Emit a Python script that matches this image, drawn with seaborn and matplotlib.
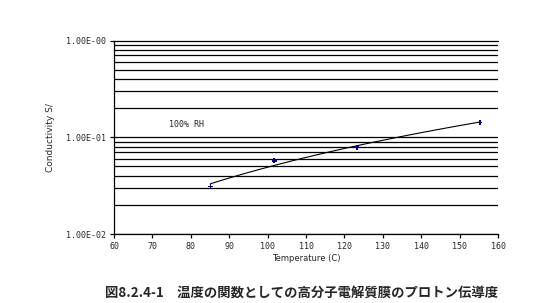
import numpy as np
import pandas as pd
import matplotlib
matplotlib.use("Agg")
import matplotlib.pyplot as plt
import seaborn as sns

# Data
temperature = [85.1, 101.7, 123.2, 155.3]
conductivity = [0.031, 0.057, 0.079, 0.142]
x_ticks = [60, 70, 80, 90, 100, 110, 120, 130, 140, 150, 160]
y_ticks = [0.01, 0.1, 1.0]
y_tick_labels = ["1.00E-02", "1.00E-01", "1.00E-00"]
annotation = "100% RH"
x_label = "Temperature (C)"
y_label = "Conductivity S/"
caption = "図8.2.4-1　温度の関数としての高分子電解質膜のプロトン伝導度"

sns.set_theme(style="white")
plt.rcParams['font.family'] = ['DejaVu Sans', 'Noto Sans CJK JP']

fig = plt.figure(figsize=(5.51, 3.03), dpi=100)
ax = fig.add_axes([0.2069, 0.2277, 0.697, 0.6386])

df = pd.DataFrame({"T": temperature, "S": conductivity})

# Power trendline fitted from the data (like a spreadsheet trendline)
b, a = np.polyfit(np.log(df["T"]), np.log(df["S"]), 1)
t_fit = np.linspace(min(temperature), max(temperature), 60)
fit_df = pd.DataFrame({"T": t_fit, "S": np.exp(a) * t_fit ** b})

ax.set_yscale("log")
ax.set_xlim(60, 160)
ax.set_ylim(0.01, 1.0)

# horizontal grid lines at every log position
for dec in [0.01, 0.1]:
    for m in range(1, 10):
        ax.axhline(dec * m, color="black", lw=0.9, zorder=1)
ax.axhline(1.0, color="black", lw=0.9, zorder=1, clip_on=False)

sns.lineplot(data=fit_df, x="T", y="S", ax=ax, color="black", lw=0.8, zorder=3)
sns.scatterplot(data=df, x="T", y="S", ax=ax, color="#000080", marker="P",
                s=12, edgecolor="none", zorder=4)

tick_font = dict(fontsize=6, family="DejaVu Sans Mono")
ax.set_xticks(x_ticks)
ax.set_xticklabels([str(v) for v in x_ticks], **tick_font)
ax.set_yticks(y_ticks)
ax.set_yticklabels(y_tick_labels, **tick_font)
ax.yaxis.set_minor_locator(matplotlib.ticker.NullLocator())
ax.tick_params(axis="both", which="major", direction="out", length=3, width=0.9,
               color="black", pad=3, bottom=True, left=True)

for side in ["top", "right"]:
    ax.spines[side].set_visible(False)
for side in ["left", "bottom"]:
    ax.spines[side].set_color("black")
    ax.spines[side].set_linewidth(0.9)

ax.set_xlabel(x_label, fontsize=6, labelpad=2)
ax.set_ylabel(y_label, fontsize=6.5, labelpad=8)

ax.text(79, 0.136, annotation, fontsize=6, va="center", ha="center",
        family="DejaVu Sans Mono")

fig.text(0.547, 0.033, caption, fontsize=9.6, fontweight="bold",
         ha="center", va="center", family=['Noto Sans CJK JP', 'DejaVu Sans'])

fig.savefig("out.png", dpi=100, facecolor="white")
